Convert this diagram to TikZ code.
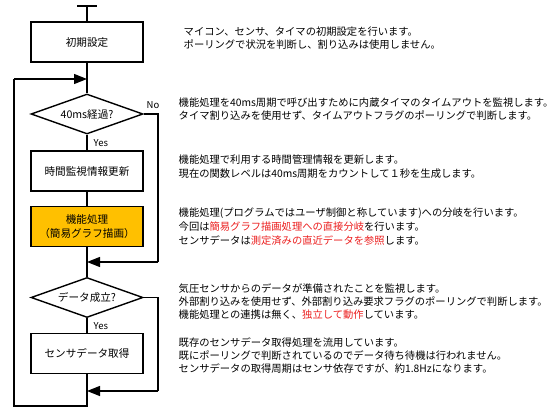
\documentclass[tikz,border=0pt]{standalone}
\usepackage{fontspec}
\setmainfont{Noto Sans CJK JP}
\usetikzlibrary{arrows.meta,shapes.geometric}
\definecolor{boxorange}{RGB}{255,192,0}
\definecolor{hl}{RGB}{235,30,30}
\newcommand{\hlt}[1]{\textcolor{hl}{#1}}
\begin{document}
\begin{tikzpicture}[x=1pt,y=-1pt,line width=1.4pt,
  proc/.style={draw,minimum width=112pt,minimum height=40pt,inner sep=0pt,
    font=\fontsize{10.6}{13.5}\selectfont,align=center},
  dec/.style={draw,diamond,aspect=2.8,minimum width=112pt,minimum height=40pt,
    inner sep=0pt,font=\fontsize{10.6}{12}\selectfont},
  lbl/.style={inner sep=0pt,font=\fontsize{9.5}{10}\selectfont},
  txt/.style={anchor=west,inner sep=0pt,font=\fontsize{10.3}{13}\selectfont},
  arr/.style={-{Triangle[length=13pt,width=10pt]}}]
\useasboundingbox (0,0) rectangle (556,412);

% flowchart nodes
\coordinate (tl) at (77,6);
\coordinate (tr) at (97,6);
\coordinate (top) at (87,6);
\node[proc] (init) at (87,42) {初期設定};
\node[dec] (d1) at (87,114) {40ms経過?};
\node[proc] (upd) at (87,171) {時間監視情報更新};
\node[proc,fill=boxorange] (func) at (87,226.5) {機能処理\\（簡易グラフ描画）};
\node[dec] (d2) at (87,297.5) {データ成立?};
\node[proc] (sens) at (87,353.5) {センサデータ取得};

\coordinate (m1) at (87,79);
\coordinate (m2) at (87,262);
\coordinate (m3) at (87,391);
\coordinate (bot) at (87,406);
\coordinate (bl) at (14,406);
\coordinate (tlft) at (14,79);
\coordinate (r1) at (158,114);
\coordinate (r1b) at (158,262);
\coordinate (r2) at (158,297.5);
\coordinate (r2b) at (158,391);

\draw (tl) -- (tr);
\draw (top) -- (init.north);
\draw (init.south) -- (d1.north);
\draw (d1.south) -- (upd.north);
\draw (upd.south) -- (func.north);
\draw (func.south) -- (d2.north);
\draw (d2.south) -- (sens.north);
\draw (sens.south) -- (bot) -- (bl) -- (tlft);
\draw[arr] (tlft) -- (m1);
\draw (d1.east) -- (r1) -- (r1b);
\draw[arr] (r1b) -- (m2);
\draw (d2.east) -- (r2) -- (r2b);
\draw[arr] (r2b) -- (m3);

\node[lbl,anchor=west] (no1) at (146,105) {No};
\node[lbl,anchor=west] (yes1) at (93,143) {Yes};
\node[lbl,anchor=west] (yes2) at (93,326) {Yes};

% descriptions
\node[txt] (a1) at (183,32) {マイコン、センサ、タイマの初期設定を行います。};
\node[txt] (a2) at (183,45) {ポーリングで状況を判断し、割り込みは使用しません。};

\node[txt] (b1) at (178,102.5) {機能処理を40ms周期で呼び出すために内蔵タイマのタイムアウトを監視します。};
\node[txt] (b2) at (178,116) {タイマ割り込みを使用せず、タイムアウトフラグのポーリングで判断します。};

\node[txt] (c1) at (178,160) {機能処理で利用する時間管理情報を更新します。};
\node[txt] (c2) at (178,173.5) {現在の関数レベルは40ms周期をカウントして１秒を生成します。};

\node[txt] (e1) at (178,213) {機能処理(プログラムではユーザ制御と称しています)への分岐を行います。};
\node[txt] (e2) at (178,227) {今回は\hlt{簡易グラフ描画処理への直接分岐}を行います。};
\node[txt] (e3) at (178,240.5) {センサデータは\hlt{測定済みの直近データを参照}します。};

\node[txt] (f1) at (178,289) {気圧センサからのデータが準備されたことを監視します。};
\node[txt] (f2) at (178,302) {外部割り込みを使用せず、外部割り込み要求フラグのポーリングで判断します。};
\node[txt] (f3) at (178,315) {機能処理との連携は無く、\hlt{独立して動作}しています。};

\node[txt] (g1) at (178,343) {既存のセンサデータ取得処理を流用しています。};
\node[txt] (g2) at (178,356) {既にポーリングで判断されているのでデータ待ち待機は行われません。};
\node[txt] (g3) at (178,369) {センサデータの取得周期はセンサ依存ですが、約1.8Hzになります。};
\end{tikzpicture}
\end{document}
